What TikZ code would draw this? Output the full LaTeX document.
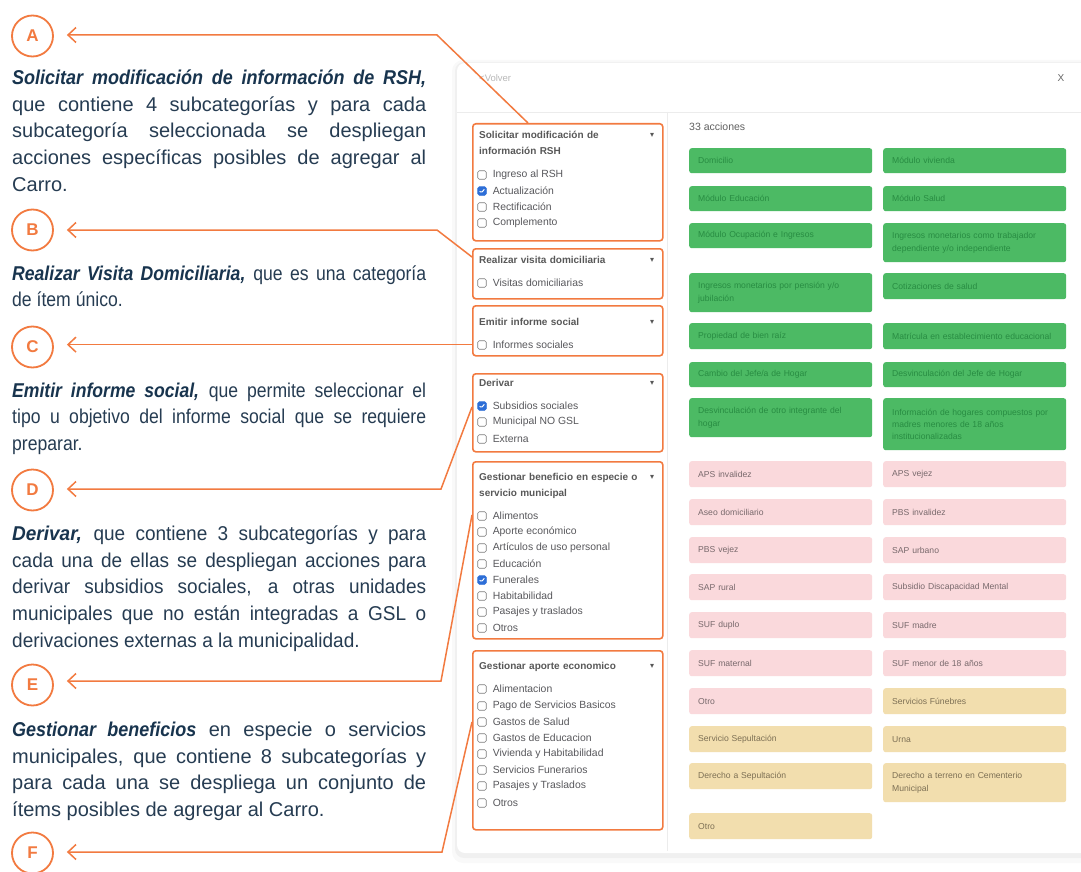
\documentclass[tikz,border=0pt]{standalone}
\usepackage{fontspec}
\setmainfont{Liberation Sans}[BoldItalicFeatures={FakeStretch=0.9}]
\newfontfamily\condfont{Liberation Sans}[FakeStretch=0.88]
\newfontfamily\narrowfont{Liberation Sans}[FakeStretch=0.95]
\newfontfamily\caretfont{DejaVu Sans}
\usetikzlibrary{arrows.meta,calc}

\definecolor{orng}{RGB}{242,122,64}
\definecolor{navy}{RGB}{24,52,78}
\definecolor{parafg}{RGB}{38,60,82}
\definecolor{titlegray}{RGB}{88,88,88}
\definecolor{itemgray}{RGB}{88,88,92}
\definecolor{cbgray}{RGB}{125,125,125}
\definecolor{cbblue}{RGB}{45,110,215}
\definecolor{sepgray}{RGB}{236,236,236}
\definecolor{btngreen}{RGB}{76,186,100}
\definecolor{btngreentxt}{RGB}{40,140,66}
\definecolor{btnpink}{RGB}{250,217,220}
\definecolor{btnpinktxt}{RGB}{120,105,108}
\definecolor{btnsand}{RGB}{242,222,174}
\definecolor{btnsandtxt}{RGB}{125,112,85}

\begin{document}
\begin{tikzpicture}[x=1pt,y=-1pt,
    conn/.style={draw=orng, line width=1.5pt, -{Straight Barb[length=8pt,width=15pt]}, shorten >=13pt},
    letter/.style={circle, draw=orng, line width=1.8pt, minimum size=41pt, inner sep=0pt, text=orng, font=\fontsize{17}{17}\selectfont\bfseries},
    para/.style={anchor=base west, text width=414pt, align=justify, inner sep=0pt, text=parafg, font=\fontsize{20}{26.7}\selectfont},
    catbox/.style={draw=orng, line width=1.6pt, rounded corners=3pt, fill=white, anchor=north west, minimum width=190pt, inner sep=0pt},
    cattitle/.style={anchor=base west, text width=165pt, align=left, inner sep=0pt, text=titlegray, font=\fontsize{10}{16}\selectfont\bfseries},
    caret/.style={inner sep=0pt, text=titlegray, font=\caretfont\fontsize{8}{8}\selectfont},
    item/.style={inner sep=0pt, xshift=6pt, text=itemgray, font=\fontsize{10.4}{12}\selectfont},
    cb/.style={draw=cbgray, line width=0.6pt, fill=white, rounded corners=1.5pt, minimum size=8.5pt, inner sep=0pt},
    cbon/.style={cb, draw=cbblue, fill=cbblue, path picture={\draw[white, line width=1pt] ($(path picture bounding box.center)+(-2.3,0.2)$) -- ++(1.7,1.7) -- ++(2.9,-3.6);}},
    btn/.style={anchor=north west, text width=165pt, align=left, inner xsep=9pt, inner ysep=0pt, rounded corners=2.5pt, font=\fontsize{8.6}{12.3}\selectfont},
    gbtn/.style={btn, fill=btngreen, text=btngreentxt},
    pbtn/.style={btn, fill=btnpink, text=btnpinktxt},
    ybtn/.style={btn, fill=btnsand, text=btnsandtxt}]
  \useasboundingbox (0,0) rectangle (1081,872);
  \fill[white] (0,0) rectangle (1081,872);

  % screenshot card
  \fill[black, opacity=0.025, rounded corners=11pt] (452,60) rectangle (1100,863);
  \fill[black, opacity=0.035, rounded corners=9pt] (455,62) rectangle (1100,858);
  \fill[white, rounded corners=8pt] (457,63) rectangle (1100,853);
  \draw[sepgray] (457,112) -- (1081,112);
  \draw[sepgray] (667,112) -- (667,851);
  \node[anchor=west, inner sep=0pt, text=black!28, font=\fontsize{9.5}{9.5}\selectfont] (volver) at (479,78) {<Volver};
  \node[inner sep=0pt, text=black!60, font=\fontsize{10}{10}\selectfont] (close) at (1061,78) {X};
  \node[anchor=west, inner sep=0pt, text=black!62, font=\fontsize{10.5}{10.5}\selectfont] (count) at (689,127) {33 acciones};

  % category boxes
  \node[catbox, minimum height=117pt] (boxA) at (472,123) {};
  \node[cattitle] (titA) at (479,138.5) {Solicitar modificación de\\información RSH};
  \node[caret] at (652,135) {▾};
  \node[cb, label={[item]right:Ingreso al RSH}] (cbA1) at (482,175) {};
  \node[cbon, label={[item]right:Actualización}] (cbA2) at (482,191) {};
  \node[cb, label={[item]right:Rectificación}] (cbA3) at (482,207) {};
  \node[cb, label={[item]right:Complemento}] (cbA4) at (482,223) {};

  \node[catbox, minimum height=50pt] (boxB) at (472,248) {};
  \node[cattitle] (titB) at (479,263.5) {Realizar visita domiciliaria};
  \node[caret] at (652,260) {▾};
  \node[cb, label={[item]right:Visitas domiciliarias}] (cbB1) at (482,283) {};

  \node[catbox, minimum height=50pt] (boxC) at (472,305) {};
  \node[cattitle] (titC) at (479,325.5) {Emitir informe social};
  \node[caret] at (652,322) {▾};
  \node[cb, label={[item]right:Informes sociales}] (cbC1) at (482,345) {};

  \node[catbox, minimum height=78pt] (boxD) at (472,373) {};
  \node[cattitle] (titD) at (479,386.5) {Derivar};
  \node[caret] at (652,383) {▾};
  \node[cbon, label={[item]right:Subsidios sociales}] (cbD1) at (482,406) {};
  \node[cb, label={[item]right:Municipal NO GSL}] (cbD2) at (482,422) {};
  \node[cb, label={[item]right:Externa}] (cbD3) at (482,439) {};

  \node[catbox, minimum height=177pt] (boxE) at (472,461) {};
  \node[cattitle] (titE) at (479,480.5) {Gestionar beneficio en especie o\\servicio municipal};
  \node[caret] at (652,477) {▾};
  \node[cb, label={[item]right:Alimentos}] (cbE1) at (482,516) {};
  \node[cb, label={[item]right:Aporte económico}] (cbE2) at (482,532) {};
  \node[cb, label={[item]right:Artículos de uso personal}] (cbE3) at (482,548) {};
  \node[cb, label={[item]right:Educación}] (cbE4) at (482,564) {};
  \node[cbon, label={[item]right:Funerales}] (cbE5) at (482,580) {};
  \node[cb, label={[item]right:Habitabilidad}] (cbE6) at (482,596) {};
  \node[cb, label={[item]right:Pasajes y traslados}] (cbE7) at (482,612) {};
  \node[cb, label={[item]right:Otros}] (cbE8) at (482,628) {};

  \node[catbox, minimum height=179pt] (boxF) at (472,650) {};
  \node[cattitle] (titF) at (479,669.5) {Gestionar aporte economico};
  \node[caret] at (652,666) {▾};
  \node[cb, label={[item]right:Alimentacion}] (cbF1) at (482,689) {};
  \node[cb, label={[item]right:Pago de Servicios Basicos}] (cbF2) at (482,706) {};
  \node[cb, label={[item]right:Gastos de Salud}] (cbF3) at (482,722) {};
  \node[cb, label={[item]right:Gastos de Educacion}] (cbF4) at (482,738) {};
  \node[cb, label={[item]right:Vivienda y Habitabilidad}] (cbF5) at (482,754) {};
  \node[cb, label={[item]right:Servicios Funerarios}] (cbF6) at (482,770) {};
  \node[cb, label={[item]right:Pasajes y Traslados}] (cbF7) at (482,786) {};
  \node[cb, label={[item]right:Otros}] (cbF8) at (482,803) {};

  % action buttons
  \node[gbtn, minimum height=25pt] (gDom) at (689,148) {Domicilio};
  \node[gbtn, minimum height=25pt] (gViv) at (883,148) {Módulo vivienda};
  \node[gbtn, minimum height=25pt] (gEdu) at (689,186) {Módulo Educación};
  \node[gbtn, minimum height=25pt] (gSal) at (883,186) {Módulo Salud};
  \node[gbtn, minimum height=25pt] (gOcu) at (689,223) {Módulo Ocupación e Ingresos};
  \node[gbtn, minimum height=39pt] (gTra) at (883,223) {Ingresos monetarios como trabajador\\dependiente y/o independiente};
  \node[gbtn, minimum height=39pt] (gPen) at (689,273) {Ingresos monetarios por pensión y/o\\jubilación};
  \node[gbtn, minimum height=26pt] (gCot) at (883,273) {Cotizaciones de salud};
  \node[gbtn, minimum height=26pt] (gPro) at (689,323) {Propiedad de bien raíz};
  \node[gbtn, minimum height=26pt] (gMat) at (883,323) {Matrícula en establecimiento educacional};
  \node[gbtn, minimum height=25pt] (gCam) at (689,362) {Cambio del Jefe/a de Hogar};
  \node[gbtn, minimum height=25pt] (gDes) at (883,362) {Desvinculación del Jefe de Hogar};
  \node[gbtn, minimum height=39pt] (gOtr) at (689,398) {Desvinculación de otro integrante del\\hogar};
  \node[gbtn, minimum height=52pt] (gInf) at (883,398) {Información de hogares compuestos por\\madres menores de 18 años\\institucionalizadas};

  \node[pbtn, minimum height=26pt] (pApsI) at (689,461) {APS invalidez};
  \node[pbtn, minimum height=26pt] (pApsV) at (883,461) {APS vejez};
  \node[pbtn, minimum height=26pt] (pAseo) at (689,499) {Aseo domiciliario};
  \node[pbtn, minimum height=26pt] (pPbsI) at (883,499) {PBS invalidez};
  \node[pbtn, minimum height=26pt] (pPbsV) at (689,537) {PBS vejez};
  \node[pbtn, minimum height=26pt] (pSapU) at (883,537) {SAP urbano};
  \node[pbtn, minimum height=26pt] (pSapR) at (689,574) {SAP rural};
  \node[pbtn, minimum height=26pt] (pDisc) at (883,574) {Subsidio Discapacidad Mental};
  \node[pbtn, minimum height=26pt] (pSufD) at (689,612) {SUF duplo};
  \node[pbtn, minimum height=26pt] (pSufM) at (883,612) {SUF madre};
  \node[pbtn, minimum height=26pt] (pSufT) at (689,650) {SUF maternal};
  \node[pbtn, minimum height=26pt] (pSufN) at (883,650) {SUF menor de 18 años};
  \node[pbtn, minimum height=26pt] (pOtro) at (689,688) {Otro};

  \node[ybtn, minimum height=26pt] (yFun) at (883,688) {Servicios Fúnebres};
  \node[ybtn, minimum height=26pt] (ySep) at (689,726) {Servicio Sepultación};
  \node[ybtn, minimum height=26pt] (yUrna) at (883,726) {Urna};
  \node[ybtn, minimum height=26pt] (yDer) at (689,763) {Derecho a Sepultación};
  \node[ybtn, minimum height=39pt] (yTer) at (883,763) {Derecho a terreno en Cementerio\\Municipal};
  \node[ybtn, minimum height=26pt] (yOtro) at (689,813) {Otro};

  % letters and texts
  \node[letter] (circA) at (32.5,36) {A};
  \node[para] (parA) at (12,84.5) {\textcolor{navy}{\textbf{\textit{Solicitar modificación de información de RSH,}}} \linebreak que contiene 4 subcategorías y para cada \linebreak subcategoría seleccionada se despliegan \linebreak acciones específicas posibles de agregar al \linebreak Carro.};
  \node[letter] (circB) at (32.5,230) {B};
  \node[para] (parB) at (12,280) {\condfont\textcolor{navy}{\textbf{\textit{Realizar Visita Domiciliaria,}}} que es una categoría \linebreak de ítem único.};
  \node[letter] (circC) at (32.5,347) {C};
  \node[para] (parC) at (12,397) {\condfont\textcolor{navy}{\textbf{\textit{Emitir informe social,}}} que permite seleccionar el \linebreak tipo u objetivo del informe social que se requiere \linebreak preparar.};
  \node[letter] (circD) at (32.5,490) {D};
  \node[para] (parD) at (12,540.5) {\narrowfont\textcolor{navy}{\textbf{\textit{Derivar,}}} que contiene 3 subcategorías y para \linebreak cada una de ellas se despliegan acciones para \linebreak derivar subsidios sociales, a otras unidades \linebreak municipales que no están integradas a GSL o \linebreak derivaciones externas a la municipalidad.};
  \node[letter] (circE) at (32.5,685) {E};
  \node[para] (parE) at (12,736.5) {\textcolor{navy}{\textbf{\textit{Gestionar beneficios}}} en especie o servicios \linebreak municipales, que contiene 8 subcategorías y \linebreak para cada una se despliega un conjunto de \linebreak ítems posibles de agregar al Carro.};
  \node[letter] (circF) at (32.5,853) {F};

  % connectors
  \coordinate (bendA) at (437,35);
  \coordinate (bendB) at (437,230);
  \coordinate (bendD) at (441,489);
  \coordinate (bendE) at (441,681);
  \coordinate (bendF) at (442,852);
  \coordinate (startC) at ($(boxC.south west)+(0,-12)$);
  \draw[conn] ($(boxA.north west)+(56,0)$) -- (bendA) -- (bendA -| circA.east);
  \draw[conn] ($(boxB.north west)+(0,9)$) -- (bendB) -- (bendB -| circB.east);
  \draw[conn] (startC) -- (startC -| circC.east);
  \draw[conn] ($(boxD.north west)+(0,34)$) -- (bendD) -- (bendD -| circD.east);
  \draw[conn] ($(boxE.north west)+(0,54)$) -- (bendE) -- (bendE -| circE.east);
  \draw[conn] ($(boxF.north west)+(0,72)$) -- (bendF) -- (bendF -| circF.east);
\end{tikzpicture}
\end{document}
